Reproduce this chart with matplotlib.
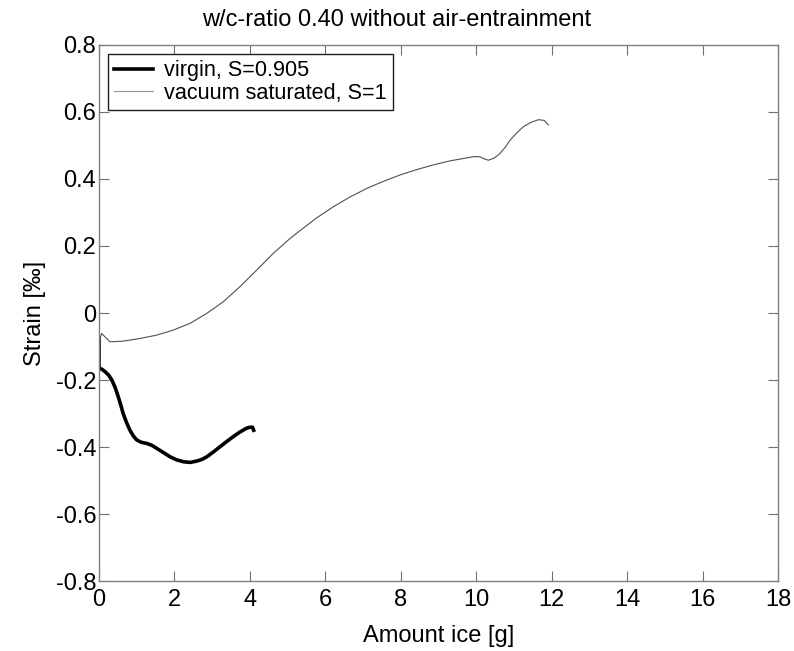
import numpy as np
import matplotlib.pyplot as plt

plt.rcParams['font.family'] = ['Liberation Sans', 'DejaVu Sans']

# virgin specimen, S=0.905
virgin_x = [0.0, 0.0, 0.0, 0.08, 0.16, 0.26, 0.34, 0.43, 0.51, 0.58, 0.64, 0.73,
            0.82, 0.91, 1.0, 1.12, 1.26, 1.40, 1.53, 1.70, 1.88, 2.05, 2.24, 2.42,
            2.59, 2.73, 2.86, 3.03, 3.21, 3.38, 3.56, 3.74, 3.91, 4.00, 4.07, 4.10]
virgin_y = [-0.075, -0.12, -0.165, -0.168, -0.175, -0.186, -0.20, -0.223, -0.25,
            -0.276, -0.30, -0.327, -0.35, -0.367, -0.379, -0.386, -0.389, -0.395,
            -0.404, -0.416, -0.429, -0.438, -0.444, -0.446, -0.442, -0.437, -0.429,
            -0.415, -0.399, -0.384, -0.369, -0.355, -0.344, -0.341, -0.341, -0.35]

# vacuum saturated specimen, S=1
vac_x = [0.0, 0.07, 0.29, 0.64, 1.09, 1.53, 1.97, 2.41, 2.86, 3.30, 3.74, 4.18,
         4.62, 5.06, 5.33, 5.77, 6.21, 6.65, 7.10, 7.54, 7.98, 8.42, 8.86, 9.30,
         9.75, 9.95, 10.10, 10.22, 10.32, 10.47, 10.63, 10.77, 10.90, 11.07,
         11.25, 11.45, 11.65, 11.80, 11.91]
vac_y = [-0.085, -0.061, -0.086, -0.084, -0.076, -0.066, -0.051, -0.031, -0.001,
         0.034, 0.079, 0.128, 0.178, 0.222, 0.246, 0.284, 0.317, 0.346, 0.372,
         0.393, 0.412, 0.428, 0.442, 0.454, 0.463, 0.467, 0.466, 0.460, 0.456,
         0.462, 0.476, 0.495, 0.516, 0.537, 0.556, 0.569, 0.577, 0.575, 0.562]

fig = plt.figure(figsize=(7.94, 6.51), dpi=100)
ax = fig.add_axes([0.1247, 0.1075, 0.8551, 0.8234])

ax.plot(virgin_x, virgin_y, color='black', lw=2.6, label='virgin, S=0.905')
ax.plot(vac_x, vac_y, color='#505050', lw=0.8, label='vacuum saturated, S=1')

ax.set_xlim(0, 18)
ax.set_ylim(-0.8, 0.8)
ax.set_xticks(np.arange(0, 19, 2))
ax.set_yticks(np.arange(-0.8, 0.81, 0.2))
ax.set_yticklabels(['-0.8', '-0.6', '-0.4', '-0.2', '0', '0.2', '0.4', '0.6', '0.8'])
ax.tick_params(direction='in', length=7, top=True, right=True, labelsize=17,
               color='#707070', pad=2)
ax.tick_params(axis='x', pad=6)
for s in ax.spines.values():
    s.set_color('#808080')
    s.set_linewidth(1.0)

ax.set_xlabel('Amount ice [g]', fontsize=17, labelpad=10)
ax.set_ylabel('Strain [‰]', fontsize=17, labelpad=7)
fig.text(0.5, 1 - 20 / 651, 'w/c-ratio 0.40 without air-entrainment',
         fontsize=17, ha='center', va='center')

leg = ax.legend(loc='upper left', bbox_to_anchor=(0.0133, 0.983), borderaxespad=0,
                fontsize=15.6, fancybox=False, edgecolor='#202020', framealpha=1,
                handlelength=1.8, handletextpad=0.5, borderpad=0.28,
                labelspacing=0.08)
leg.get_frame().set_linewidth(1.0)
leg.get_lines()[1].set_color('#909090')

fig.savefig('out.png', dpi=100)
